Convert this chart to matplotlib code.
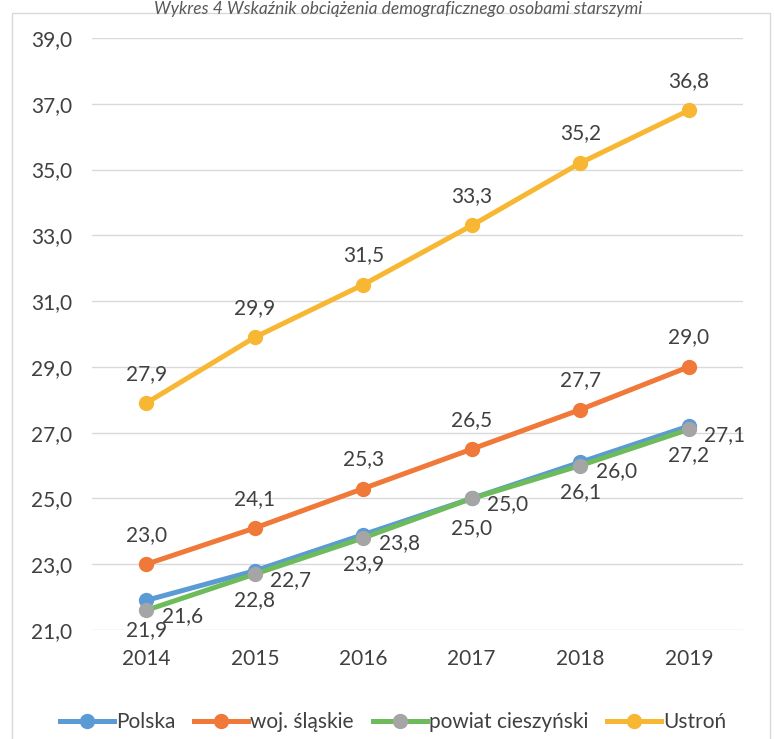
import matplotlib
matplotlib.use("Agg")
import matplotlib.pyplot as plt
from matplotlib.patches import Rectangle

years = ["2014", "2015", "2016", "2017", "2018", "2019"]
polska = [21.9, 22.8, 23.9, 25.0, 26.1, 27.2]
slaskie = [23.0, 24.1, 25.3, 26.5, 27.7, 29.0]
cieszynski = [21.6, 22.7, 23.8, 25.0, 26.0, 27.1]
ustron = [27.9, 29.9, 31.5, 33.3, 35.2, 36.8]
yticks = [21, 23, 25, 27, 29, 31, 33, 35, 37, 39]
title = "Wykres 4 Wskaźnik obciążenia demograficznego osobami starszymi"

plt.rcParams['font.family'] = ['Lato', 'DejaVu Sans']
txt = '#404040'
fs = 15

fig = plt.figure(figsize=(7.74, 7.39), dpi=100)
fig.patch.set_facecolor('white')
ax = fig.add_axes([92/774, 1-630/739, (743-92)/774, (630-38)/739])

x = list(range(len(years)))
def fmt(v):
    return f"{v:.1f}".replace('.', ',')

series = [
    ("Polska", polska, '#5B9BD5', '#5B9BD5', 'below'),
    ("woj. śląskie", slaskie, '#F07838', '#F07838', 'above'),
    ("powiat cieszyński", cieszynski, '#6DBB5A', '#A5A5A5', 'right'),
    ("Ustroń", ustron, '#F8B733', '#F8B733', 'above'),
]
for name, vals, lc, mc, pos in series:
    ax.plot(x, vals, color=lc, lw=3.6, marker='o', ms=10,
            markerfacecolor=mc, markeredgecolor=mc, label=name, zorder=3)
    for xi, v in zip(x, vals):
        if pos == 'above':
            ax.annotate(fmt(v), (xi, v), xytext=(0, 14), textcoords='offset points',
                        ha='center', va='bottom', fontsize=fs, color=txt)
        elif pos == 'below':
            ax.annotate(fmt(v), (xi, v), xytext=(0, -14), textcoords='offset points',
                        ha='center', va='top', fontsize=fs, color=txt)
        else:
            ax.annotate(fmt(v), (xi, v), xytext=(11, -4), textcoords='offset points',
                        ha='left', va='center', fontsize=fs, color=txt)

ax.set_xlim(-0.5, len(years) - 0.5)
ax.set_ylim(21, 39)
ax.set_yticks(yticks)
ax.set_yticklabels([fmt(v) for v in yticks], fontsize=fs, color=txt)
ax.set_xticks(x)
ax.set_xticklabels(years, fontsize=fs, color=txt)
ax.tick_params(length=0)
ax.tick_params(axis='x', pad=14)
ax.tick_params(axis='y', pad=14)
ax.grid(axis='y', color='#D9D9D9', lw=1)
ax.set_axisbelow(True)
for s in ax.spines.values():
    s.set_visible(False)

leg = fig.legend(loc='center', bbox_to_anchor=(393/774, 1-722/739), ncol=4,
                 frameon=False, fontsize=fs, handlelength=2.6, columnspacing=0.9,
                 handletextpad=0.1, labelcolor=txt)

fig.add_artist(Rectangle((12/774, -0.02), (770-12)/774, 0.02 + 1-13/739,
                         transform=fig.transFigure, fill=False,
                         edgecolor='#D9D9D9', lw=1))
fig.text(398/774, 1-1/739, title, ha='center', va='top', fontsize=12.5,
         style='italic', color='#595959')

fig.savefig("out.png", dpi=100)
